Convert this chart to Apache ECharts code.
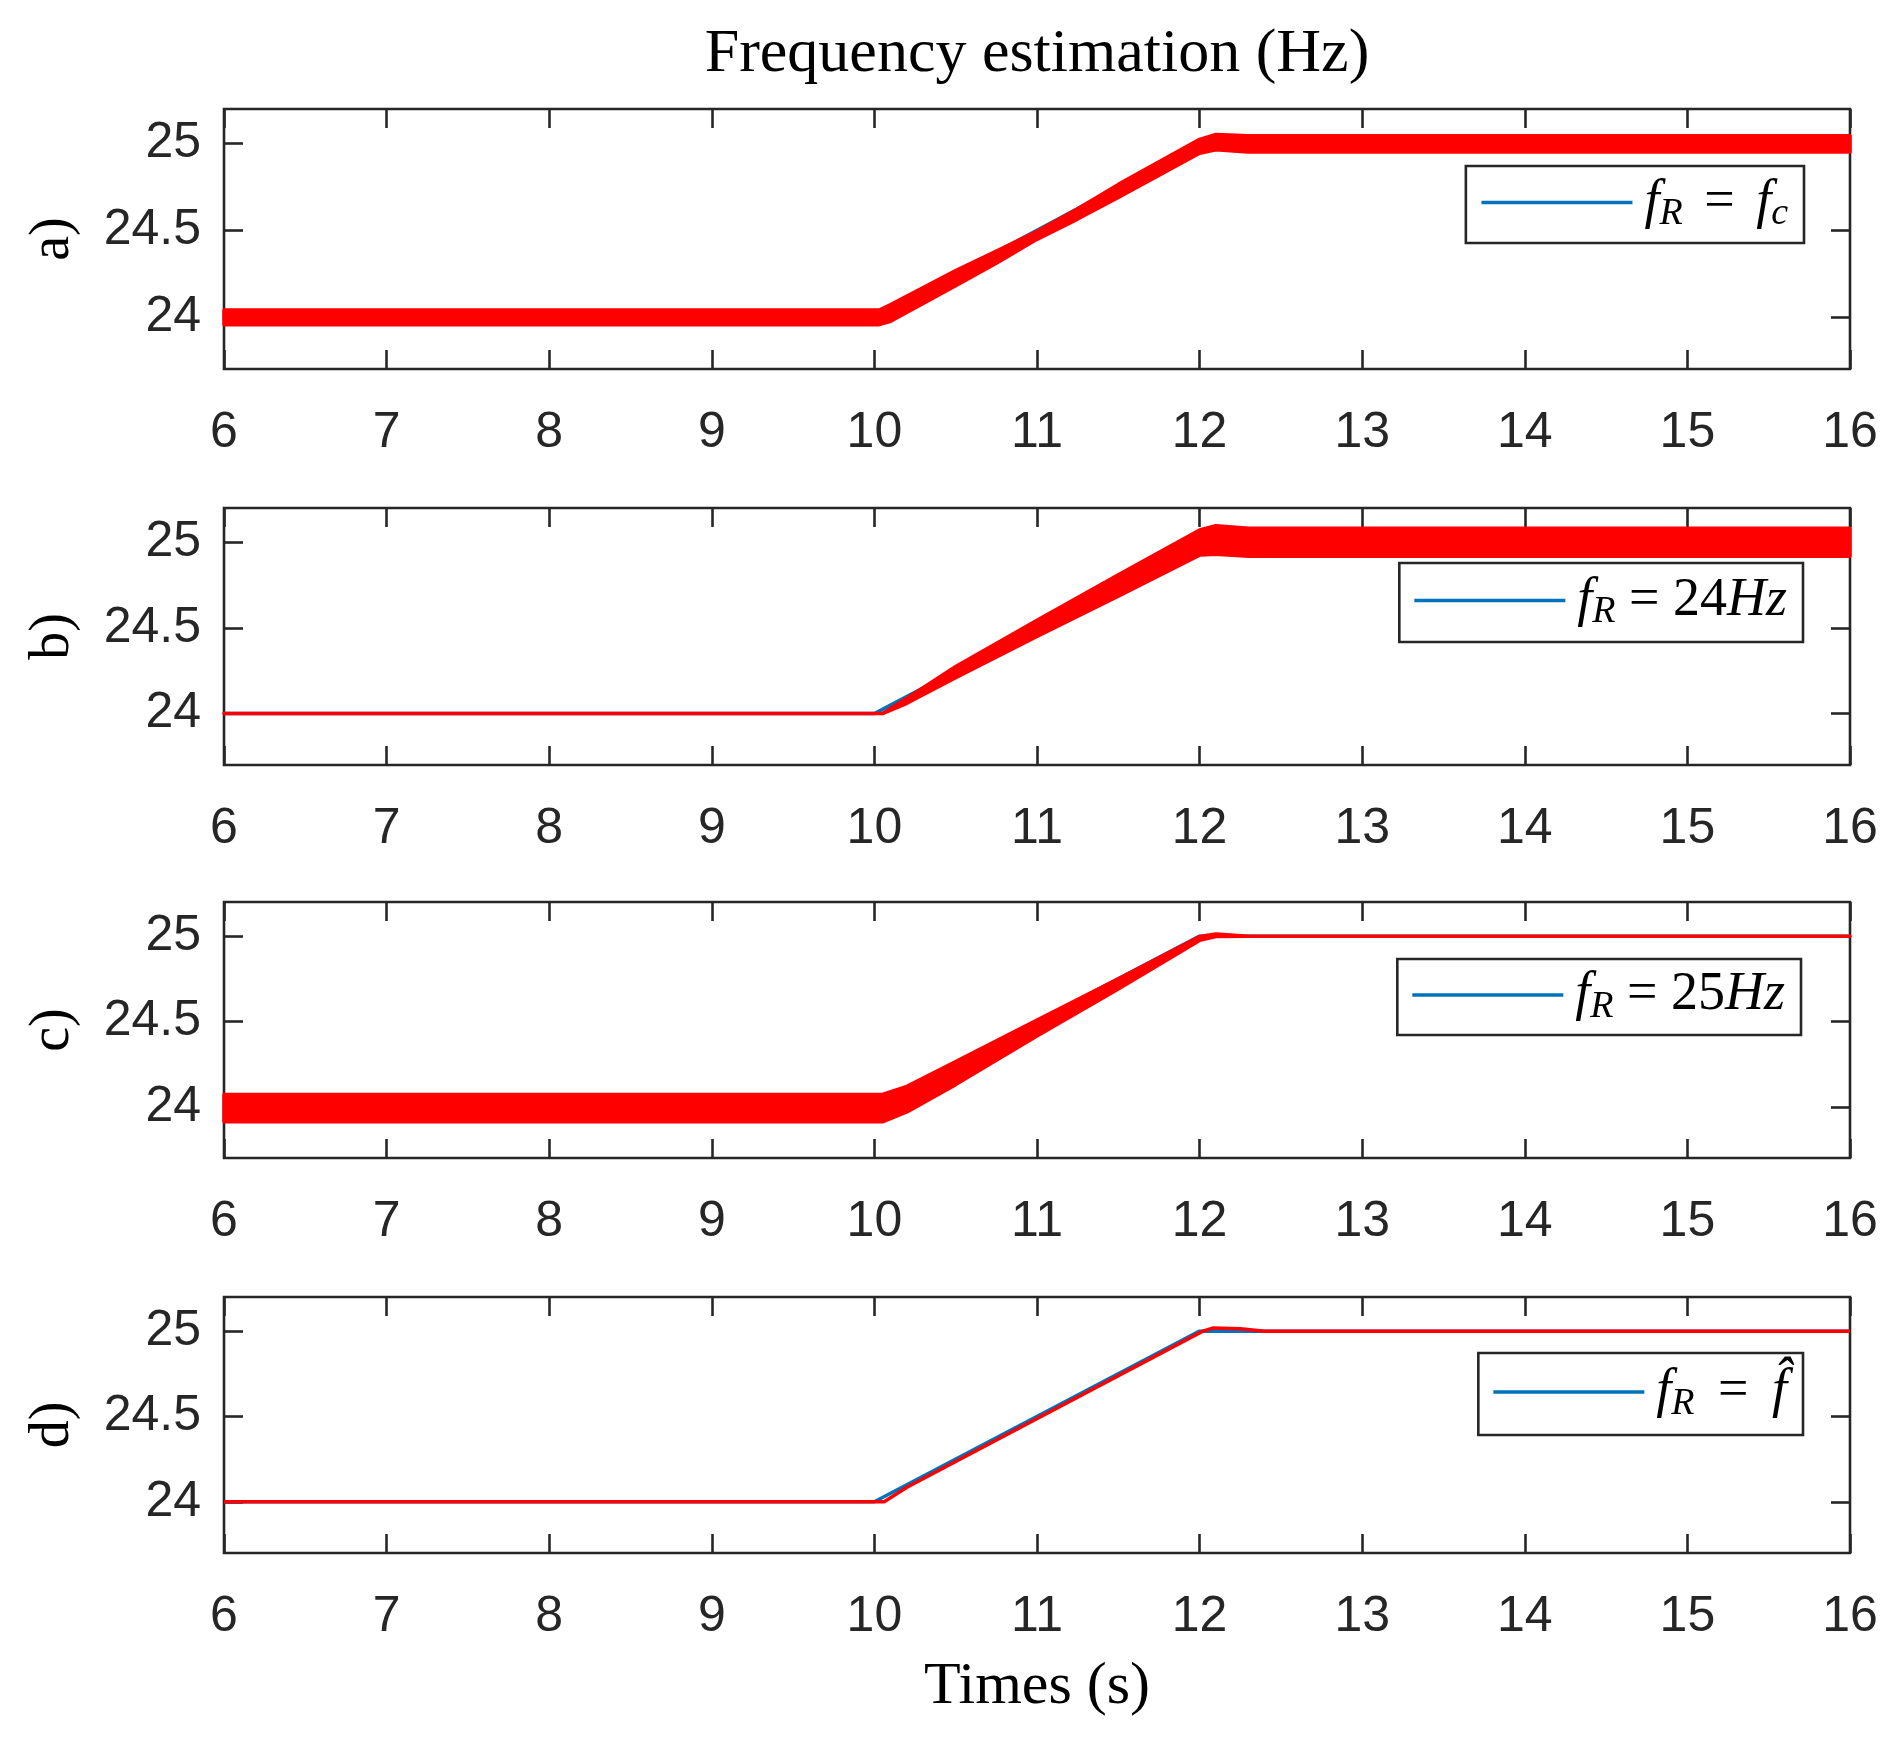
<!DOCTYPE html>
<html>
<head>
<meta charset="utf-8">
<script src="https://cdn.jsdelivr.net/npm/echarts@6/dist/echarts.min.js"></script>
<style>
  html, body { margin: 0; padding: 0; background: #fff; }
  #chart { width: 1898px; height: 1752px; }
</style>
</head>
<body>
<div id="chart"></div>
<script>
// axis ticks
const xTicks = [6, 7, 8, 9, 10, 11, 12, 13, 14, 15, 16];
const yTicks = [24, 24.5, 25];
const panelLabels = ["a)", "b)", "c)", "d)"];

// reference frequency (blue), same in every panel
const refTime = [6, 10, 12, 16];
const refFreq = [24, 24, 25, 25];

// red estimate, drawn as the envelope of the oscillation
const bandATime = [6, 10.03, 10.1, 10.5, 10.75, 11, 11.25, 11.5, 12, 12.1, 12.3, 16];
const bandAUpper = [24.04, 24.04, 24.072, 24.268, 24.38, 24.495, 24.625, 24.765, 25.025, 25.053, 25.045, 25.045];
const bandALower = [23.956, 23.956, 23.975, 24.18, 24.31, 24.448, 24.565, 24.69, 24.945, 24.965, 24.952, 24.952];

const bandBTime = [6, 10.05, 10.2, 10.5, 11, 11.5, 12, 12.1, 12.3, 16];
const bandBUpper = [24, 24, 24.09, 24.275, 24.545, 24.81, 25.072, 25.097, 25.082, 25.082];
const bandBLower = [24, 24, 24.06, 24.21, 24.45, 24.685, 24.925, 24.93, 24.918, 24.918];

const bandCTime = [6, 10.05, 10.2, 10.5, 11, 11.5, 12, 12.1, 12.3, 16];
const bandCUpper = [24.072, 24.072, 24.12, 24.265, 24.508, 24.75, 24.998, 25.012, 25, 25];
const bandCLower = [23.912, 23.912, 23.97, 24.13, 24.415, 24.69, 24.975, 24.998, 25, 25];

const estDTime = [6, 10.06, 10.2, 12.02, 12.08, 12.25, 12.4, 16];
const estDFreq = [24, 24, 24.085, 25.0, 25.018, 25.014, 25, 25];

const legendNames = ["fc", "f24", "f25", "fhat"];
const legendTexts = [
  "{m0|f}{s|R}{ea| = }{m|f}{s|c}",
  "{m0|f}{s|R}{n| = 24}{m|Hz}",
  "{m0|f}{s|R}{n| = 25}{m|Hz}",
  "{m0|f}{s|R}{ed| = }{m|f\u0302}",
];

const BLUE = "#0072BD";
const RED = "#FF0000";
const INK = "#262626";

const panelTops = [109, 508, 902, 1297];
const panelBottoms = [369, 765, 1158, 1553];
const plotLeft = 224;
const plotRight = 1850;

const legendBoxes = [
  { right: 94, top: 166, padding: [9.5, 16, 9.5, 15.6] },
  { right: 95, top: 563, padding: [10.5, 16, 10.5, 15] },
  { right: 97, top: 959, padding: [9, 16, 9, 15] },
  { right: 95, top: 1353, padding: [12, 16, 12, 15] },
];

const serif = "Liberation Serif";
const mathRich = {
  m: { fontFamily: serif, fontStyle: "italic", fontSize: 54, lineHeight: 62, color: "#000" },
  m0: { fontFamily: serif, fontStyle: "italic", fontSize: 54, lineHeight: 62, color: "#000", padding: [0, 0, 0, 7] },
  n: { fontFamily: serif, fontSize: 54, lineHeight: 62, color: "#000" },
  ea: { fontFamily: serif, fontSize: 54, lineHeight: 62, color: "#000", padding: [0, 8, 0, 8] },
  ed: { fontFamily: serif, fontSize: 54, lineHeight: 62, color: "#000", padding: [0, 10, 0, 10] },
  s: { fontFamily: serif, fontStyle: "italic", fontSize: 38, lineHeight: 38, verticalAlign: "bottom", color: "#000" },
};

const tickLine = { color: INK, width: 2.6 };

const grids = [];
const xAxes = [];
const yAxes = [];
const series = [];

function bandSeries(idx, time, upper, lower) {
  return {
    type: "custom",
    xAxisIndex: 2 * idx,
    yAxisIndex: 2 * idx,
    z: 4,
    silent: true,
    data: [[time[0], upper[0]]],
    renderItem(params, api) {
      const points = [];
      time.forEach((t, i) => points.push(api.coord([t, upper[i]])));
      for (let i = time.length - 1; i >= 0; i--) {
        points.push(api.coord([time[i], lower[i]]));
      }
      return {
        type: "polygon",
        shape: { points },
        style: { fill: RED, stroke: RED, lineWidth: 3.5, lineJoin: "round" },
      };
    },
  };
}

panelTops.forEach((top, i) => {
  grids.push({
    left: plotLeft,
    width: plotRight - plotLeft,
    top,
    height: panelBottoms[i] - top,
    show: true,
    borderColor: INK,
    borderWidth: 2.6,
    backgroundColor: "transparent",
  });
  xAxes.push(
    {
      gridIndex: i,
      type: "value",
      min: xTicks[0],
      max: xTicks[xTicks.length - 1],
      interval: 1,
      position: "bottom",
      axisLine: { show: false },
      axisTick: { inside: true, length: 19, lineStyle: tickLine },
      axisLabel: { margin: 39, fontFamily: "Liberation Sans", fontSize: 50, color: INK },
      splitLine: { show: false },
    },
    {
      gridIndex: i,
      type: "value",
      min: xTicks[0],
      max: xTicks[xTicks.length - 1],
      interval: 1,
      position: "top",
      axisLine: { show: false },
      axisTick: { inside: true, length: 19, lineStyle: tickLine },
      axisLabel: { show: false },
      splitLine: { show: false },
    }
  );
  yAxes.push(
    {
      gridIndex: i,
      type: "value",
      min: 23.7,
      max: 25.2,
      position: "left",
      axisLine: { show: false },
      axisTick: { inside: true, length: 19, lineStyle: tickLine, customValues: yTicks },
      axisLabel: { margin: 23, fontFamily: "Liberation Sans", fontSize: 50, color: INK, customValues: yTicks },
      splitLine: { show: false },
    },
    {
      gridIndex: i,
      type: "value",
      min: 23.7,
      max: 25.2,
      position: "right",
      axisLine: { show: false },
      axisTick: { inside: true, length: 19, lineStyle: tickLine, customValues: yTicks },
      axisLabel: { show: false, customValues: yTicks },
      splitLine: { show: false },
    }
  );
  series.push({
    name: legendNames[i],
    type: "line",
    xAxisIndex: 2 * i,
    yAxisIndex: 2 * i,
    data: refTime.map((t, k) => [t, refFreq[k]]),
    color: BLUE,
    itemStyle: { color: BLUE },
    lineStyle: { color: BLUE, width: 3.5 },
    symbol: "none",
    z: 3,
    silent: true,
  });
});

series.push(bandSeries(0, bandATime, bandAUpper, bandALower));
series.push(bandSeries(1, bandBTime, bandBUpper, bandBLower));
series.push(bandSeries(2, bandCTime, bandCUpper, bandCLower));
series.push({
  name: "estimate",
  type: "line",
  xAxisIndex: 6,
  yAxisIndex: 6,
  data: estDTime.map((t, k) => [t, estDFreq[k]]),
  lineStyle: { color: RED, width: 3.5 },
  itemStyle: { color: RED },
  symbol: "none",
  z: 4,
  silent: true,
});

const legends = legendNames.map((name, i) => ({
  data: [name],
  right: legendBoxes[i].right,
  top: legendBoxes[i].top,
  padding: legendBoxes[i].padding,
  icon: "rect",
  itemWidth: 151,
  itemHeight: 3.5,
  selectedMode: false,
  backgroundColor: "#fff",
  borderColor: INK,
  borderWidth: 2.6,
  borderRadius: 0,
  formatter: () => legendTexts[i],
  textStyle: { rich: mathRich },
}));

function textEl(text, x, y, size, rotation) {
  return {
    type: "text",
    x,
    y,
    rotation: rotation || 0,
    silent: true,
    style: {
      text,
      font: `${size}px "Liberation Serif"`,
      fill: "#000",
      align: "center",
      verticalAlign: "middle",
      textAlign: "center",
      textVerticalAlign: "middle",
    },
  };
}

const graphics = [
  textEl("Frequency estimation (Hz)", (plotLeft + plotRight) / 2, 55, 62),
  textEl("Times (s)", (plotLeft + plotRight) / 2, 1687, 60),
];
panelLabels.forEach((label, i) => {
  graphics.push(textEl(label, 53, (panelTops[i] + panelBottoms[i]) / 2, 56, Math.PI / 2));
});

const chart = echarts.init(document.getElementById("chart"), null, { renderer: "canvas" });
chart.setOption({
  animation: false,
  backgroundColor: "#fff",
  grid: grids,
  xAxis: xAxes,
  yAxis: yAxes,
  legend: legends,
  series,
  graphic: graphics,
});
</script>
</body>
</html>
